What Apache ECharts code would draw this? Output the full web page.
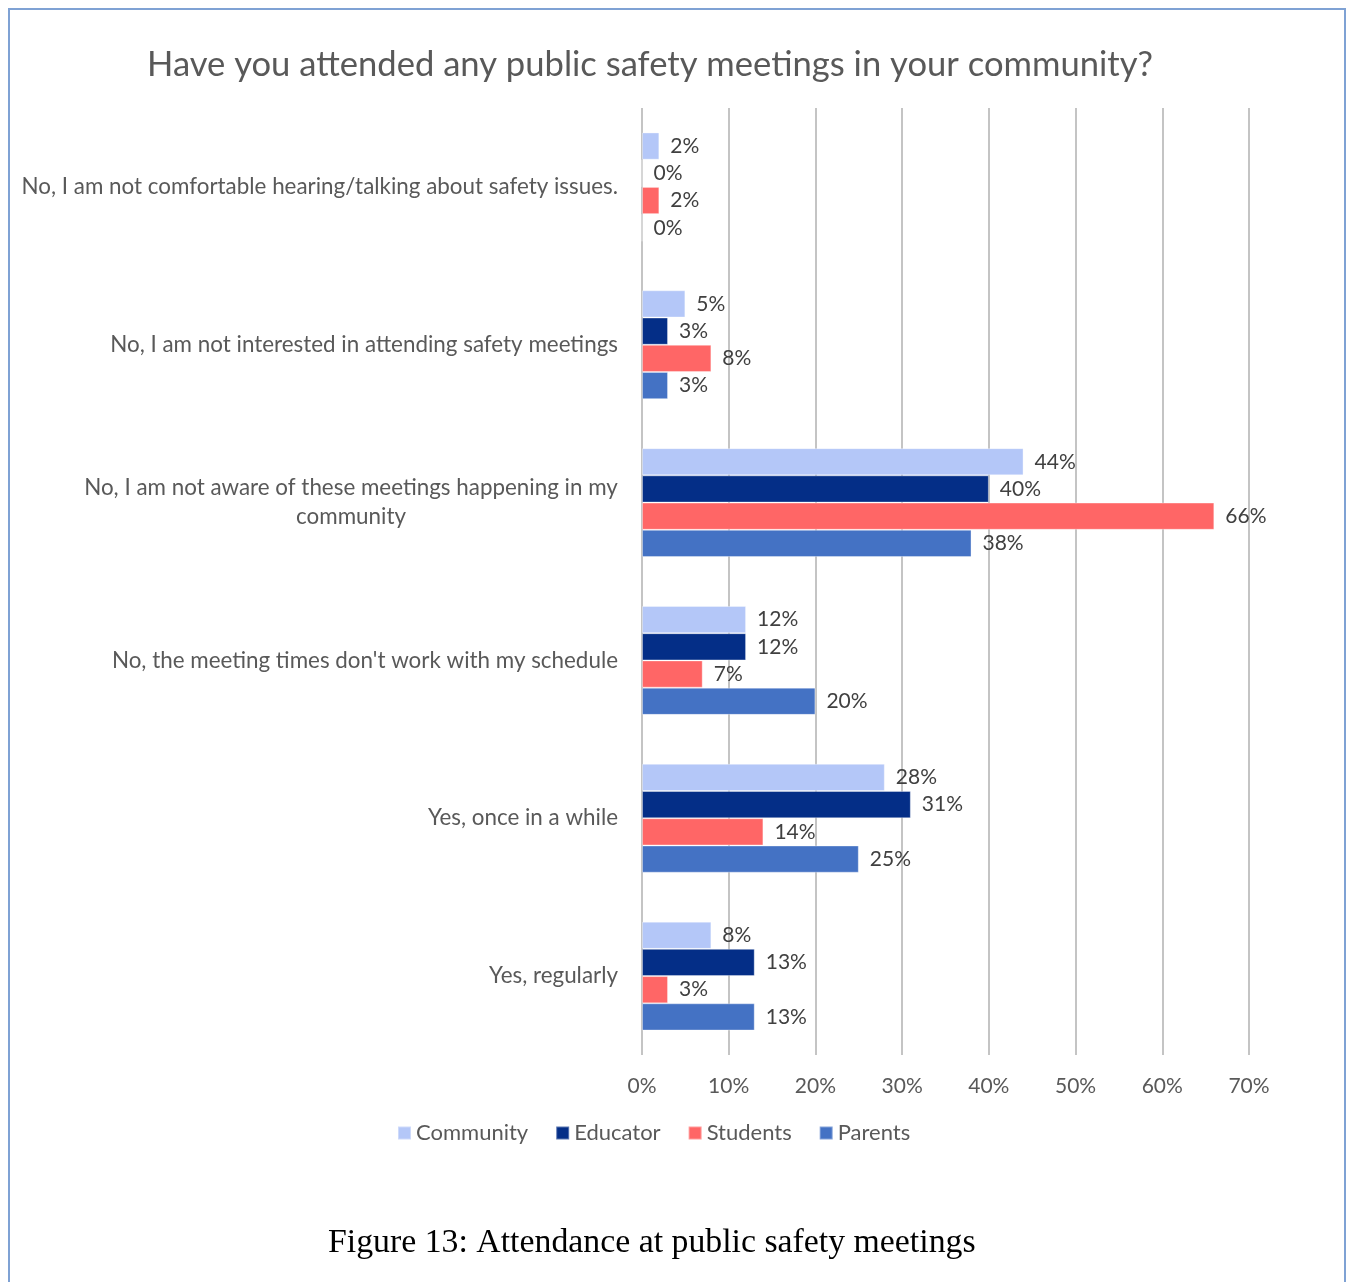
<!DOCTYPE html>
<html>
<head>
<meta charset="utf-8">
<style>
  html, body { margin: 0; padding: 0; background: #ffffff; }
  #chart { width: 1349px; height: 1282px; }
</style>
<script src="https://cdn.jsdelivr.net/npm/echarts@6/dist/echarts.min.js"></script>
</head>
<body>
<div id="chart"></div>
<script>
// Survey answers, listed top to bottom
const categories = [
  'No, I am not comfortable hearing/talking about safety issues.',
  'No, I am not interested in attending safety meetings',
  'No, I am not aware of these meetings happening in my\ncommunity',
  "No, the meeting times don't work with my schedule",
  'Yes, once in a while',
  'Yes, regularly'
];

// Share of respondents (%) per group
const community = [2, 5, 44, 12, 28, 8];
const educator  = [0, 3, 40, 12, 31, 13];
const students  = [2, 8, 66, 7, 14, 3];
const parents   = [0, 3, 38, 20, 25, 13];

const xTicks = [0, 10, 20, 30, 40, 50, 60, 70];

const groups = [
  { name: 'Community', data: community, color: '#b4c7f8' },
  { name: 'Educator',  data: educator,  color: '#042e87' },
  { name: 'Students',  data: students,  color: '#ff6666' },
  { name: 'Parents',   data: parents,   color: '#4472c4' }
];

const chart = echarts.init(document.getElementById('chart'), null, { renderer: 'canvas' });

const sansFont = 'Lato, "Open Sans", sans-serif';

chart.setOption({
  backgroundColor: '#ffffff',
  animation: false,
  title: {
    text: 'Have you attended any public safety meetings in your community?',
    left: 142,
    top: 42,
    textStyle: { fontFamily: sansFont, fontSize: 34.6, fontWeight: 'normal', color: '#595959' }
  },
  legend: {
    top: 1117,
    left: 392,
    icon: 'rect',
    itemWidth: 13,
    itemHeight: 13,
    itemGap: 27,
    textStyle: { fontFamily: sansFont, fontSize: 22, color: '#595959' },
    data: groups.map(g => g.name)
  },
  grid: {
    left: 642,
    right: 100,
    top: 108,
    bottom: 1282 - 1055,
    containLabel: false
  },
  xAxis: {
    type: 'value',
    min: 0,
    max: 70,
    interval: 10,
    axisLine: { show: false },
    axisTick: { show: false },
    splitLine: { lineStyle: { color: '#c4c4c4', width: 2 } },
    axisLabel: {
      margin: 21,
      fontFamily: sansFont,
      fontSize: 21,
      color: '#595959',
      formatter: v => xTicks.includes(v) ? v + '%' : ''
    }
  },
  yAxis: {
    type: 'category',
    inverse: true,
    data: categories,
    axisLine: { show: false },
    axisTick: { show: false },
    axisLabel: {
      margin: 24,
      fontFamily: sansFont,
      fontSize: 22.4,
      color: '#595959',
      lineHeight: 29,
      formatter: function (v) {
        if (v.indexOf('\n') >= 0) {
          return v.split('\n').map(s => '{c|' + s + '}').join('\n');
        }
        return v;
      },
      rich: {
        c: { width: 534, align: 'center', fontFamily: sansFont, fontSize: 22.4, color: '#595959', lineHeight: 29 }
      }
    }
  },
  series: groups.map(g => ({
    name: g.name,
    type: 'bar',
    data: g.data,
    barGap: '0%',
    barCategoryGap: '31%',
    itemStyle: { color: g.color, borderColor: 'rgba(255,255,255,0.35)', borderWidth: 1 },
    label: {
      show: true,
      position: 'right',
      distance: 11,
      fontFamily: sansFont,
      fontSize: 21,
      color: '#404040',
      formatter: p => p.value + '%'
    }
  })),
  graphic: [
    {
      type: 'rect',
      silent: true,
      shape: { x: 9, y: 9, width: 1336, height: 1300 },
      style: { fill: null, stroke: '#7fa2d4', lineWidth: 2 }
    },
    {
      type: 'text',
      left: 328,
      top: 1226,
      style: {
        text: 'Figure 13: Attendance at public safety meetings',
        fontFamily: '"Liberation Serif", "DejaVu Serif", serif',
        fontSize: 33.8,
        fill: '#000000'
      }
    }
  ]
});
</script>
</body>
</html>
